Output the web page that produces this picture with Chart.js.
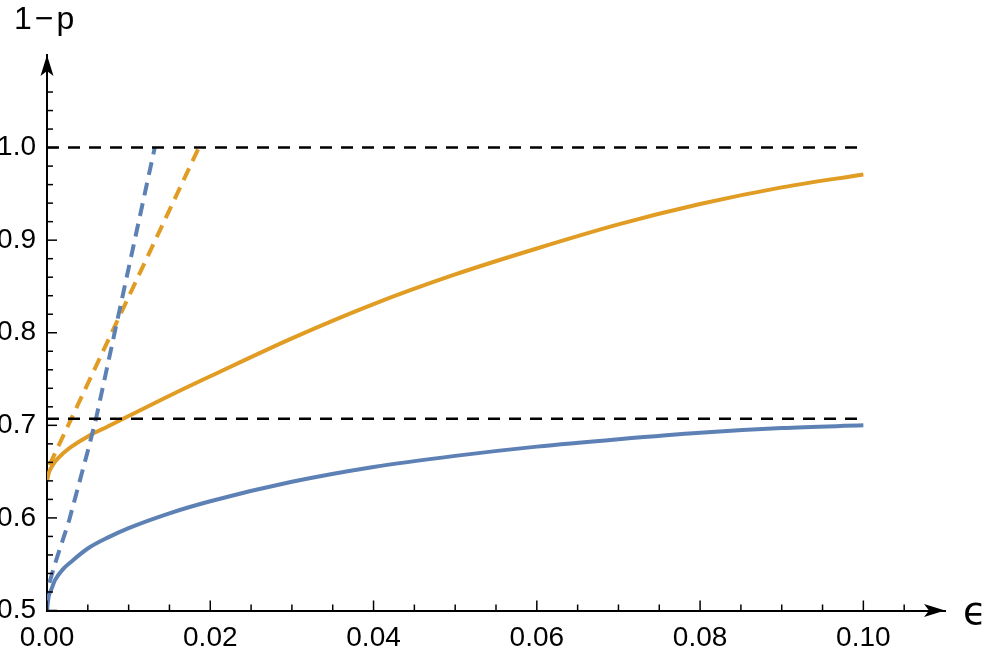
<!DOCTYPE html>
<html>
<head>
<meta charset="utf-8">
<script src="https://cdn.jsdelivr.net/npm/chart.js@4.4.1/dist/chart.umd.min.js"></script>
<style>
  html, body { margin: 0; padding: 0; background: #fff; }
  #wrap { width: 989px; height: 648px; position: relative; }
</style>
</head>
<body>
<div id="wrap"><canvas id="chart"></canvas></div>
<script>
const eps = [0, 0.0002, 0.0005, 0.001, 0.002, 0.003, 0.005, 0.0075, 0.01, 0.015, 0.02, 0.03, 0.04, 0.05, 0.06, 0.07, 0.08, 0.09, 0.1];
const blueCurve = [0.5, 0.515, 0.522, 0.533, 0.545, 0.553, 0.567, 0.579, 0.589, 0.605, 0.618, 0.639, 0.655, 0.667, 0.677, 0.685, 0.692, 0.697, 0.700];
const orangeCurve = [0.640, 0.648, 0.654, 0.661, 0.670, 0.677, 0.688, 0.699, 0.710, 0.732, 0.753, 0.794, 0.831, 0.863, 0.891, 0.917, 0.939, 0.957, 0.971];

// dashed approximations
const blueDashEps = [0.0003, 0.001, 0.0027, 0.0049, 0.006, 0.0132];
const blueDash = [0.530, 0.551, 0.597, 0.669, 0.707, 1.0];
const orangeDashEps = [0.0003, 0.0186];
const orangeDash = [0.657, 1.0];

// horizontal reference levels
const refEps = [0, 0.1];
const upperLevel = [1.0, 1.0];
const lowerLevel = [0.7071, 0.7071];

// ticks
const xTicks = [0, 0.005, 0.01, 0.015, 0.02, 0.025, 0.03, 0.035, 0.04, 0.045, 0.05, 0.055, 0.06, 0.065, 0.07, 0.075, 0.08, 0.085, 0.09, 0.095, 0.1, 0.105];
const xMajor = [0, 0.02, 0.04, 0.06, 0.08, 0.1];
const yTicks = [0.5, 0.52, 0.54, 0.56, 0.58, 0.6, 0.62, 0.64, 0.66, 0.68, 0.7, 0.72, 0.74, 0.76, 0.78, 0.8, 0.82, 0.84, 0.86, 0.88, 0.9, 0.92, 0.94, 0.96, 0.98, 1.0, 1.02, 1.04, 1.06];
const yMajor = [0.5, 0.6, 0.7, 0.8, 0.9, 1.0];

const BLUE = 'rgb(94,129,181)';
const ORANGE = 'rgb(225,156,36)';

function pts(xs, ys) {
    return xs.map((v, i) => ({ x: v, y: ys[i] }));
}

// ticks pointing into the plot, arrowheads, axis names
const axisDecor = {
    id: 'axisDecor',
    afterDraw(chart) {
        const { ctx, chartArea: a, scales: { x, y } } = chart;
        ctx.save();
        ctx.strokeStyle = '#000';
        ctx.lineWidth = 1.5;
        x.ticks.forEach(t => {
            const px = x.getPixelForValue(t.value);
            const len = xMajor.includes(t.value) ? 10 : 6;
            ctx.beginPath();
            ctx.moveTo(px, a.bottom);
            ctx.lineTo(px, a.bottom - len);
            ctx.stroke();
        });
        y.ticks.forEach(t => {
            const py = y.getPixelForValue(t.value);
            const len = yMajor.includes(t.value) ? 10 : 6;
            ctx.beginPath();
            ctx.moveTo(a.left, py);
            ctx.lineTo(a.left + len, py);
            ctx.stroke();
        });

        ctx.fillStyle = '#000';
        // x arrow
        ctx.beginPath();
        ctx.moveTo(a.right, a.bottom);
        ctx.lineTo(a.right - 21, a.bottom - 6.5);
        ctx.lineTo(a.right - 16, a.bottom);
        ctx.lineTo(a.right - 21, a.bottom + 6.5);
        ctx.closePath();
        ctx.fill();
        // y arrow
        ctx.beginPath();
        ctx.moveTo(a.left, a.top);
        ctx.lineTo(a.left - 6.5, a.top + 21);
        ctx.lineTo(a.left, a.top + 16);
        ctx.lineTo(a.left + 6.5, a.top + 21);
        ctx.closePath();
        ctx.fill();

        ctx.textBaseline = 'alphabetic';
        ctx.textAlign = 'left';
        ctx.font = '32px "Liberation Sans"';
        ctx.letterSpacing = '3px';
        ctx.fillText('1\u2212p', 14, 29);
        ctx.letterSpacing = '0px';
        ctx.font = '38px "DejaVu Sans"';
        ctx.fillText('\u03F5', 963, 624);
        ctx.restore();
    }
};

Chart.defaults.font.family = '"Liberation Sans", Arial, sans-serif';
Chart.defaults.color = '#000';

const ctx = document.getElementById('chart').getContext('2d');
new Chart(ctx, {
    type: 'line',
    data: {
        datasets: [
            {
                data: pts(refEps, upperLevel),
                borderColor: '#000', borderWidth: 2.5, borderDash: [12, 9],
                pointRadius: 0, tension: 0
            },
            {
                data: pts(refEps, lowerLevel),
                borderColor: '#000', borderWidth: 2.5, borderDash: [12, 9],
                pointRadius: 0, tension: 0
            },
            {
                data: pts(blueDashEps, blueDash),
                borderColor: BLUE, borderWidth: 4, borderDash: [13, 8],
                pointRadius: 0, tension: 0
            },
            {
                data: pts(orangeDashEps, orangeDash),
                borderColor: ORANGE, borderWidth: 4, borderDash: [13, 8],
                pointRadius: 0, tension: 0
            },
            {
                data: pts(eps, orangeCurve),
                borderColor: ORANGE, borderWidth: 4,
                pointRadius: 0, cubicInterpolationMode: 'monotone'
            },
            {
                data: pts(eps, blueCurve),
                borderColor: BLUE, borderWidth: 4,
                pointRadius: 0, cubicInterpolationMode: 'monotone'
            }
        ]
    },
    options: {
        responsive: true,
        maintainAspectRatio: false,
        animation: false,
        layout: { padding: { top: 55, right: 44, left: 0, bottom: 0 } },
        plugins: { legend: { display: false }, tooltip: { enabled: false } },
        scales: {
            x: {
                type: 'linear',
                min: 0,
                max: 0.11,
                afterBuildTicks: s => { s.ticks = xTicks.map(v => ({ value: v })); },
                afterFit: s => { s.height = 37.5; },
                grid: { display: true, drawOnChartArea: false, drawTicks: false },
                border: { display: true, color: '#000', width: 2 },
                ticks: {
                    autoSkip: false, maxRotation: 0, minRotation: 0, padding: 11,
                    font: { size: 28 },
                    callback: v => xMajor.includes(v) ? v.toFixed(2) : ''
                }
            },
            y: {
                type: 'linear',
                min: 0.5,
                max: 1.1,
                afterBuildTicks: s => { s.ticks = yTicks.map(v => ({ value: v })); },
                afterFit: s => { s.width = 47; },
                grid: { display: true, drawOnChartArea: false, drawTicks: false },
                border: { display: true, color: '#000', width: 2 },
                ticks: {
                    autoSkip: false, padding: 11,
                    font: { size: 28 },
                    callback: v => yMajor.includes(v) ? v.toFixed(1) : ''
                }
            }
        }
    },
    plugins: [axisDecor]
});
</script>
</body>
</html>
